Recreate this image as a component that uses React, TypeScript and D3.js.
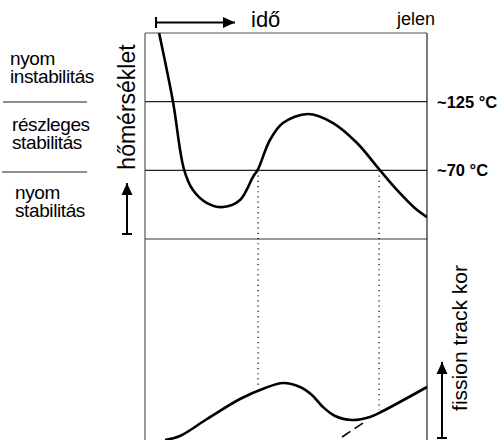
import React from "react";
import * as d3 from "d3";

// Temperature history (time 0-100 = oldest -> present, temperature in °C)
const tempTimes = [5, 9.9, 13.8, 17, 22, 27.7, 33.7, 38.3, 40.1, 44.3, 48.9, 57.8, 66.7, 75.2, 83, 89.4, 96.5, 100];
const tempValues = [180, 125.3, 71, 54.2, 43.8, 40.6, 46.2, 64.7, 71, 94.3, 107.9, 115.1, 107.9, 91.9, 71, 54.2, 38.2, 32.6];

// Fission track age (relative units)
const ageTimes = [7.1, 12.4, 22, 33.7, 42.6, 48.9, 55, 59.2, 63.1, 67.4, 73.4, 79.8, 84.4, 100];
const ageValues = [0, 2, 10.5, 20.5, 26, 28.5, 26.5, 22.5, 16.5, 12, 10, 11.5, 14.5, 26.5];

// Dashed extrapolation of the last segment
const dashTimes = [69.9, 77.3];
const dashAges = [1.5, 8.5];

// Closure crossings (dotted)
const dotTimes = [40.1, 83];
const dotAges = [26, 15];

const bandTemps = [125, 70];
const bandLabels = ["~125 °C", "~70 °C"];
const zoneLabels = [["nyom", "instabilitás"], ["részleges", "stabilitás"], ["nyom", "stabilitás"]];

const FONT = "'Liberation Sans', Arial, sans-serif";

export default function App() {
  const W = 499, H = 440;
  const x = d3.scaleLinear().domain([0, 100]).range([145, 427]);
  const yT = d3.scaleLinear().domain([15, 180]).range([239, 33]);
  const yA = d3.scaleLinear().domain([0, 100]).range([440, 240]);

  const tempLine = d3
    .line<number>()
    .x((d, i) => x(tempTimes[i]))
    .y((d) => yT(d))
    .curve(d3.curveCatmullRom.alpha(0.5));
  const ageLine = d3
    .line<number>()
    .x((d, i) => x(ageTimes[i]))
    .y((d) => yA(d))
    .curve(d3.curveCatmullRom.alpha(0.5));

  const left = x(0), right = x(100);
  const top = yT(180), mid = yT(15);

  const zoneY = [65, 131, 199];
  const zoneX = [10, 12, 15];

  return (
    <svg width={W} height={H} style={{ position: "absolute", left: 0, top: 0, background: "#fff" }} fontFamily={FONT}>
      <defs>
        <marker id="ah" viewBox="0 0 12 12" refX="12" refY="6" markerWidth="12" markerHeight="12" markerUnits="userSpaceOnUse" orient="auto">
          <path d="M0,0.5 L12,6 L0,11.5 z" fill="#000" />
        </marker>
      </defs>
      {/* frame */}
      <line x1={left} x2={left} y1={top} y2={H} stroke="#555" strokeWidth={1.2} />
      <line x1={right} x2={right} y1={top} y2={H} stroke="#222" strokeWidth={1.2} />
      <line x1={left} x2={right} y1={top} y2={top} stroke="#555" strokeWidth={1.2} />
      <line x1={left} x2={right} y1={mid} y2={mid} stroke="#333" strokeWidth={1.2} />
      {bandTemps.map((t, i) => (
        <g key={i}>
          <line x1={left} x2={right} y1={yT(t)} y2={yT(t)} stroke="#222" strokeWidth={1.1} />
          <text x={437} y={yT(t) + 6} fontSize={16.5} fontWeight="bold">{bandLabels[i]}</text>
        </g>
      ))}
      {/* left separators */}
      <line x1={3} x2={87} y1={102} y2={102} stroke="#222" strokeWidth={1.1} />
      <line x1={2} x2={87} y1={172} y2={172} stroke="#222" strokeWidth={1.1} />
      {zoneLabels.map((lines, i) =>
        lines.map((l, j) => (
          <text key={i + "-" + j} x={zoneX[i]} y={zoneY[i] + j * 17.5} fontSize={19} letterSpacing={-0.4}>{l}</text>
        ))
      )}
      {/* temperature label + arrow */}
      <text transform="translate(135,107) rotate(-90)" textAnchor="middle" fontSize={23}>hőmérséklet</text>
      <line x1={127} x2={127} y1={234} y2={183} stroke="#000" strokeWidth={2} markerEnd="url(#ah)" />
      <line x1={122} x2={132} y1={234} y2={234} stroke="#000" strokeWidth={2} />
      {/* time arrow */}
      <line x1={156} x2={235} y1={22.5} y2={22.5} stroke="#000" strokeWidth={2} markerEnd="url(#ah)" />
      <line x1={156} x2={156} y1={17} y2={28} stroke="#000" strokeWidth={2} />
      <text x={251} y={27} fontSize={22}>idő</text>
      <text x={397} y={25} fontSize={18}>jelen</text>
      {/* fission track label + arrow */}
      <text transform="translate(467,338) rotate(-90)" textAnchor="middle" fontSize={21}>fission track kor</text>
      <line x1={442} x2={442} y1={438} y2={362} stroke="#000" strokeWidth={2} markerEnd="url(#ah)" />
      <line x1={437} x2={447} y1={438} y2={438} stroke="#000" strokeWidth={2} />
      {/* dotted lines */}
      {dotTimes.map((t, i) => (
        <line key={i} x1={x(t)} x2={x(t)} y1={yT(70)} y2={yA(dotAges[i])} stroke="#000" strokeWidth={1.2} strokeDasharray="1.2,4" />
      ))}
      {/* curves */}
      <path d={tempLine(tempValues) || ""} fill="none" stroke="#000" strokeWidth={2.6} />
      <path d={ageLine(ageValues) || ""} fill="none" stroke="#000" strokeWidth={2.6} />
      <line x1={x(dashTimes[0])} y1={yA(dashAges[0])} x2={x(dashTimes[1])} y2={yA(dashAges[1])} stroke="#000" strokeWidth={1.6} strokeDasharray="10,5" />
    </svg>
  );
}
